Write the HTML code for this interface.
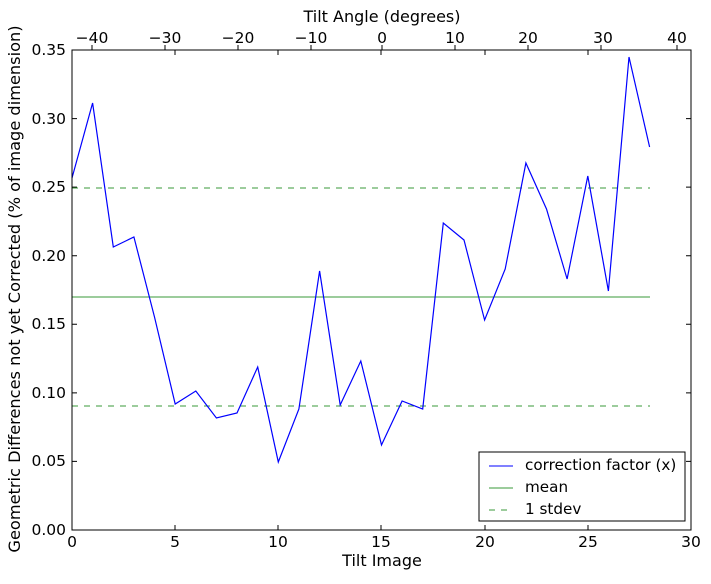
<!DOCTYPE html>
<html><head><meta charset="utf-8"><style>body{margin:0;background:#fff}</style></head><body>
<svg width="711" height="579" xmlns="http://www.w3.org/2000/svg" font-family="DejaVu Sans, Liberation Sans, sans-serif" font-size="15.5">
<rect width="711" height="579" fill="#fff"/>
<g stroke="#000" stroke-width="1">
<path d="M72,530v-5M175,530v-5M278,530v-5M381,530v-5M485,530v-5M588,530v-5M691,530v-5"/>
<path d="M72,50v5M175,50v5M278,50v5M381,50v5M485,50v5M588,50v5M691,50v5" />
<path d="M72,530h5M72,461.4h5M72,392.9h5M72,324.3h5M72,255.7h5M72,187.1h5M72,118.6h5M72,50h5"/>
<path d="M691,530h-5M691,461.4h-5M691,392.9h-5M691,324.3h-5M691,255.7h-5M691,187.1h-5M691,118.6h-5M691,50h-5"/>
<path d="M92,50v-5M165,50v-5M238,50v-5M311,50v-5M382,50v-5M455,50v-5M528,50v-5M601,50v-5M677,50v-5"/>
</g>
<g fill="#000" text-anchor="middle">
<text x="72" y="547">0</text><text x="175" y="547">5</text><text x="278" y="547">10</text><text x="381" y="547">15</text><text x="485" y="547">20</text><text x="588" y="547">25</text><text x="691" y="547">30</text>
<text x="92" y="43">−40</text><text x="165" y="43">−30</text><text x="238" y="43">−20</text><text x="311" y="43">−10</text><text x="382" y="43">0</text><text x="455" y="43">10</text><text x="528" y="43">20</text><text x="603" y="43">30</text><text x="677" y="43">40</text>
<text x="382" y="566" font-size="16">Tilt Image</text>
<text x="382" y="22" font-size="16">Tilt Angle (degrees)</text>
<text transform="translate(20,289) rotate(-90)" font-size="16.2">Geometric Differences not yet Corrected (% of image dimension)</text>
</g>
<g fill="#000" text-anchor="end">
<text x="66" y="535">0.00</text><text x="66" y="466">0.05</text><text x="66" y="398">0.10</text><text x="66" y="329">0.15</text><text x="66" y="261">0.20</text><text x="66" y="192">0.25</text><text x="66" y="124">0.30</text><text x="66" y="55">0.35</text>
</g>
<line x1="72" y1="297" x2="650" y2="297" stroke="#3a9a3a" stroke-width="1"/>
<line x1="72" y1="188" x2="650" y2="188" stroke="#3a9a3a" stroke-dasharray="6,6"/>
<line x1="72" y1="406" x2="650" y2="406" stroke="#3a9a3a" stroke-dasharray="6,6"/>
<polyline fill="none" stroke="#0000ff" stroke-width="1.2" points="72,178 92.6,103 113.3,247 133.9,237 154.5,317 175.2,404 195.8,391 216.4,418 237,413 257.7,367 278.3,462 298.9,409 319.6,271 340.2,405 360.8,361 381.5,445 402.1,401 422.7,409 443.3,223 464,240 484.6,320 505.2,269 525.9,163 546.5,209 567.1,279 587.8,176 608.4,291 629,57 649.6,147"/>
<rect x="72" y="50" width="619" height="480" fill="none" stroke="#000"/>
<rect x="479" y="452" width="206" height="69" fill="#fff" stroke="#000"/>
<line x1="489" y1="466" x2="513" y2="466" stroke="#0000ff"/>
<line x1="489" y1="488" x2="513" y2="488" stroke="#3a9a3a"/>
<line x1="489" y1="510" x2="513" y2="510" stroke="#3a9a3a" stroke-dasharray="6,6"/>
<g font-size="15.2">
<text x="525" y="470">correction factor (x)</text>
<text x="525" y="492">mean</text>
<text x="525" y="514">1 stdev</text>
</g>
</svg>
</body></html>
